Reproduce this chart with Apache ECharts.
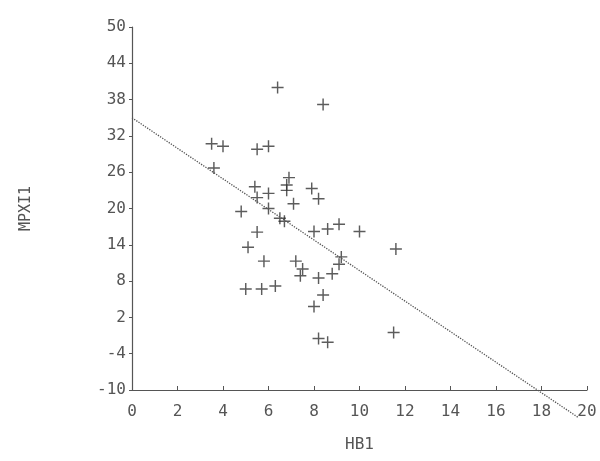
<!DOCTYPE html>
<html>
<head>
<meta charset="utf-8">
<script src="https://cdn.jsdelivr.net/npm/echarts@6/dist/echarts.min.js"></script>
<style>
  html, body { margin: 0; padding: 0; background: #fff; }
  #chart { width: 600px; height: 461px; }
</style>
</head>
<body>
<div id="chart"></div>
<script>
// HB1 (x) against MPXI1 (y)
var hb1 = [6.4, 8.4, 3.5, 4.0, 5.5, 6.0, 3.6, 6.9, 6.8, 6.8, 5.4, 5.5, 6.0, 7.9, 8.2, 7.1,
  6.0, 4.8, 6.5, 6.7, 5.5, 8.0, 8.6, 9.1, 10.0, 5.1, 11.6, 9.2, 9.1, 5.8, 7.2, 7.5,
  7.4, 8.2, 8.8, 5.0, 5.7, 6.3, 8.4, 8.0, 8.2, 8.6, 11.5]
var mpxi1 = [40.0, 37.2, 30.7, 30.3, 29.8, 30.3, 26.7, 25.1, 23.9, 23.0, 23.6, 21.8, 22.5, 23.3, 21.6, 20.8,
  20.0, 19.5, 18.4, 17.9, 16.1, 16.2, 16.6, 17.4, 16.2, 13.6, 13.3, 12.0, 10.8, 11.3, 11.3, 10.0,
  8.9, 8.5, 9.2, 6.7, 6.7, 7.2, 5.7, 3.8, -1.5, -2.1, -0.5]
// fitted line end points
var fitX = [0, 19.6]
var fitY = [35, -14.5]

var points = hb1.map(function (x, i) { return [x, mpxi1[i]] })
var fit = fitX.map(function (x, i) { return [x, fitY[i]] })

var font = 'DejaVu Sans Mono'
var plus = 'path://M4.4,0H5.6V4.4H10V5.6H5.6V10H4.4V5.6H0V4.4H4.4Z'

var chart = echarts.init(document.getElementById('chart'))
chart.setOption({
  animation: false,
  grid: { left: 132, right: 13, top: 27, bottom: 71 },
  xAxis: {
    type: 'value',
    min: 0,
    max: 20,
    interval: 2,
    name: 'HB1',
    nameLocation: 'middle',
    nameGap: 47,
    nameTextStyle: { fontFamily: font, fontSize: 16, color: '#555' },
    axisLine: { onZero: false, lineStyle: { color: '#555', width: 1.2 } },
    axisTick: { inside: true, length: 4, lineStyle: { color: '#555' } },
    axisLabel: { fontFamily: font, fontSize: 16, color: '#555', margin: 14 },
    splitLine: { show: false }
  },
  yAxis: {
    type: 'value',
    min: -10,
    max: 50,
    interval: 6,
    name: 'MPXI1',
    nameLocation: 'middle',
    nameRotate: 90,
    nameGap: 98,
    nameTextStyle: { fontFamily: font, fontSize: 15, color: '#555' },
    axisLine: { show: true, onZero: false, lineStyle: { color: '#555', width: 1.2 } },
    axisTick: { show: true, length: 3, lineStyle: { color: '#555' } },
    axisLabel: { fontFamily: font, fontSize: 16, color: '#555', margin: 6 },
    splitLine: { show: false }
  },
  series: [
    {
      type: 'scatter',
      data: points,
      symbol: plus,
      symbolSize: 12,
      itemStyle: { color: '#333' }
    },
    {
      type: 'line',
      data: fit,
      clip: false,
      symbol: 'none',
      lineStyle: { color: '#555', width: 1.3, type: 'dotted' }
    }
  ]
})
</script>
</body>
</html>
